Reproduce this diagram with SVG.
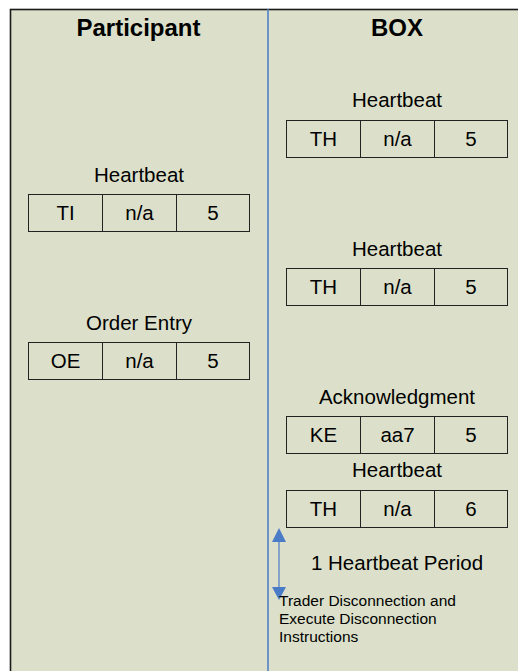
<svg xmlns="http://www.w3.org/2000/svg" width="518" height="671" viewBox="0 0 518 671">
<style>
text{font-family:"Liberation Sans",Arial,sans-serif;fill:#000}
.h{font-size:24px;font-weight:bold;text-anchor:middle}
.l{font-size:20.5px;text-anchor:middle}
.c{font-size:20.5px;text-anchor:middle}
.cell{fill:none;stroke:#222;stroke-width:1}
.s{font-size:15.5px}
</style>
<rect x="10.5" y="9.5" width="520" height="680" fill="#DCE0CA" stroke="#1a1a1a" stroke-width="1.6"/>
<g id="lanes">
<text class="h" x="138.5" y="36">Participant</text>
<text class="h" x="397" y="36">BOX</text>
</g>
<g id="connectors">
<line x1="268" y1="9" x2="268" y2="671" stroke="#4A7BC6" stroke-width="1.5"/>
<line x1="279" y1="540" x2="279" y2="590" stroke="#4A7BC6" stroke-width="1.2"/>
<path d="M279,528 L286,542 L272,542 Z" fill="#4A7BC6"/>
<path d="M279,600 L286,587 L272,587 Z" fill="#4A7BC6"/>
</g>
<g id="p-heartbeat">
<text class="l" x="139" y="182">Heartbeat</text>
<rect class="cell" x="28.5" y="194.5" width="221" height="37"/>
<line class="cell" x1="102.5" y1="194.5" x2="102.5" y2="231.5"/>
<line class="cell" x1="176.5" y1="194.5" x2="176.5" y2="231.5"/>
<text class="c" x="65.5" y="219.5">TI</text>
<text class="c" x="139.5" y="219.5">n/a</text>
<text class="c" x="213" y="219.5">5</text>
</g>
<g id="p-order">
<text class="l" x="139" y="330">Order Entry</text>
<rect class="cell" x="28.5" y="342.5" width="221" height="37"/>
<line class="cell" x1="102.5" y1="342.5" x2="102.5" y2="379.5"/>
<line class="cell" x1="176.5" y1="342.5" x2="176.5" y2="379.5"/>
<text class="c" x="65.5" y="367.5">OE</text>
<text class="c" x="139.5" y="367.5">n/a</text>
<text class="c" x="213" y="367.5">5</text>
</g>
<g id="b-heartbeat1">
<text class="l" x="397" y="107">Heartbeat</text>
<rect class="cell" x="286.5" y="120.5" width="221" height="37"/>
<line class="cell" x1="360.5" y1="120.5" x2="360.5" y2="157.5"/>
<line class="cell" x1="434.5" y1="120.5" x2="434.5" y2="157.5"/>
<text class="c" x="323.5" y="145.5">TH</text>
<text class="c" x="397.5" y="145.5">n/a</text>
<text class="c" x="471" y="145.5">5</text>
</g>
<g id="b-heartbeat2">
<text class="l" x="397" y="256">Heartbeat</text>
<rect class="cell" x="286.5" y="268.5" width="221" height="37"/>
<line class="cell" x1="360.5" y1="268.5" x2="360.5" y2="305.5"/>
<line class="cell" x1="434.5" y1="268.5" x2="434.5" y2="305.5"/>
<text class="c" x="323.5" y="293.5">TH</text>
<text class="c" x="397.5" y="293.5">n/a</text>
<text class="c" x="471" y="293.5">5</text>
</g>
<g id="b-ack">
<text class="l" x="397" y="404">Acknowledgment</text>
<rect class="cell" x="286.5" y="416.5" width="221" height="37"/>
<line class="cell" x1="360.5" y1="416.5" x2="360.5" y2="453.5"/>
<line class="cell" x1="434.5" y1="416.5" x2="434.5" y2="453.5"/>
<text class="c" x="323.5" y="441.5">KE</text>
<text class="c" x="397.5" y="441.5">aa7</text>
<text class="c" x="471" y="441.5">5</text>
</g>
<g id="b-heartbeat3">
<text class="l" x="397" y="477">Heartbeat</text>
<rect class="cell" x="286.5" y="490.5" width="221" height="37"/>
<line class="cell" x1="360.5" y1="490.5" x2="360.5" y2="527.5"/>
<line class="cell" x1="434.5" y1="490.5" x2="434.5" y2="527.5"/>
<text class="c" x="323.5" y="515.5">TH</text>
<text class="c" x="397.5" y="515.5">n/a</text>
<text class="c" x="471" y="515.5">6</text>
</g>
<g id="period">
<text x="397" y="570" style="font-size:20.5px;text-anchor:middle">1 Heartbeat Period</text>
</g>
<g id="disconnect">
<text class="s" x="279" y="606">Trader Disconnection and</text>
<text class="s" x="279" y="624">Execute Disconnection</text>
<text class="s" x="279" y="642">Instructions</text>
</g>
</svg>
